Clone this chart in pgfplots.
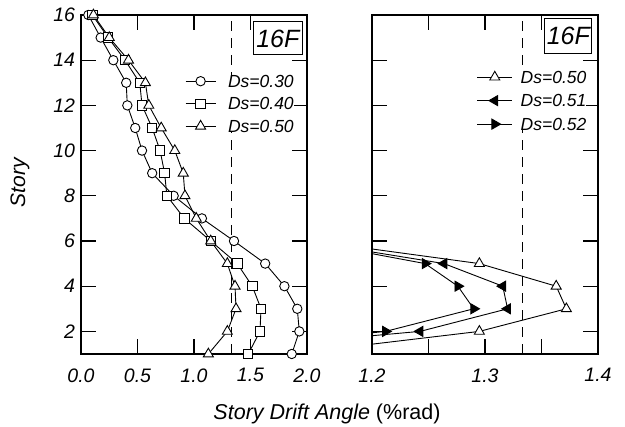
\documentclass[border=0pt]{standalone}
\usepackage{fontspec}
\setmainfont{Liberation Sans}
\usepackage{pgfplots}
\pgfplotsset{compat=1.18}

\pgfplotsset{
  mystyle/.style={
    scale only axis, width=226pt, height=339pt,
    anchor=south west,
    ymin=1, ymax=16, ytick={2,4,...,16},
    tick align=inside, major tick length=15pt,
    axis line style={line width=1.1pt},
    every tick/.style={black, line width=1.1pt},
    /pgf/number format/assume math mode=true,
    ticklabel style={font=\itshape\fontsize{19.5}{19.5}\selectfont},
    xticklabel style={yshift=-11pt},
    yticklabel style={xshift=-2.5pt},
    legend cell align=left,
    every axis plot/.append style={line width=0.9pt, black},
  },
}

\begin{document}
\begin{tikzpicture}
\useasboundingbox (0pt,0pt) rectangle (625pt,427pt);

% ---------------- left panel ----------------
\begin{axis}[mystyle, at={(81pt,73pt)},
  xmin=0, xmax=2, xtick={0,0.5,1,1.5,2},
  xticklabels={0.0,0.5,1.0,1.5,2.0},
  clip=false,
  legend image code/.code={\draw[mark repeat=2,mark phase=2] plot coordinates {(0pt,0pt)(15pt,0pt)(30pt,0pt)};},
  legend style={at={(0.46,0.823)}, anchor=north west, draw=none, fill=white,
    inner sep=0pt, column sep=12pt, row sep=10.5pt,
    font=\itshape\fontsize{17.5}{17.5}\selectfont,
    nodes={inner sep=0pt, text height=12pt, text depth=0pt}},
]
\addplot[dash pattern=on 10pt off 7pt, line width=1pt, forget plot] coordinates {(1.3333,1)(1.3333,16)};
\addplot[mark=*, mark size=4.7pt, mark options={fill=white, solid, line width=0.9pt}] coordinates {
(0.065,16)(0.174,15)(0.286,14)(0.40,13)(0.41,12)(0.48,11)(0.54,10)(0.63,9)
(0.82,8)(1.07,7)(1.354,6)(1.63,5)(1.80,4)(1.914,3)(1.932,2)(1.865,1)};
\addlegendentry{Ds=0.30}
\addplot[mark=square*, mark size=4.7pt, mark options={fill=white, solid, line width=0.9pt}] coordinates {
(0.10,16)(0.24,15)(0.39,14)(0.52,13)(0.54,12)(0.63,11)(0.70,10)(0.74,9)
(0.76,8)(0.914,7)(1.148,6)(1.383,5)(1.516,4)(1.593,3)(1.584,2)(1.48,1)};
\addlegendentry{Ds=0.40}
\addplot[mark=triangle*, mark size=5.8pt, mark options={fill=white, solid, line width=0.9pt}] coordinates {
(0.11,16)(0.25,15)(0.42,14)(0.57,13)(0.60,12)(0.71,11)(0.83,10)(0.905,9)
(0.92,8)(1.02,7)(1.148,6)(1.295,5)(1.363,4)(1.372,3)(1.295,2)(1.127,1)};
\addlegendentry{Ds=0.50}
\end{axis}

% ---------------- right panel ----------------
\begin{axis}[mystyle, at={(372pt,73pt)},
  xmin=1.2, xmax=1.4, xtick={1.2,1.25,1.3,1.35,1.4},
  xticklabels={1.2,,1.3,,1.4},
  yticklabels={},
  legend image code/.code={\draw[mark repeat=2,mark phase=2] plot coordinates {(0pt,0pt)(17.5pt,0pt)(35pt,0pt)};},
  legend style={at={(0.463,0.835)}, anchor=north west, draw=none, fill=white,
    inner sep=0pt, column sep=8pt, row sep=11.5pt,
    font=\itshape\fontsize{17.5}{17.5}\selectfont,
    nodes={inner sep=0pt, text height=12pt, text depth=0pt}},
]
\addplot[dash pattern=on 10pt off 7pt, line width=1pt, forget plot] coordinates {(1.3333,1)(1.3333,16)};
% lines (clipped)
\addplot[forget plot] coordinates {(1.127,1)(1.295,2)(1.372,3)(1.363,4)(1.295,5)(1.148,6)(1.02,7)};
\addplot[forget plot] coordinates {(1.02,1)(1.2425,2)(1.32,3)(1.3157,4)(1.2637,5)(1.14,6)(1.0,7)};
\addplot[forget plot] coordinates {(1.02,1)(1.212,2)(1.29,3)(1.276,4)(1.247,5)(1.14,6)(1.0,7)};
% markers inside the range
\addplot[only marks, forget plot, mark=triangle*, mark size=5.8pt, mark options={fill=white, solid, line width=0.9pt}] coordinates {(1.295,2)(1.372,3)(1.363,4)(1.295,5)};
\addplot[only marks, forget plot, mark=triangle*, mark size=5.8pt, mark options={fill=black, solid, rotate=90}] coordinates {(1.2425,2)(1.32,3)(1.3157,4)(1.2637,5)};
\addplot[only marks, forget plot, mark=triangle*, mark size=5.8pt, mark options={fill=black, solid, rotate=-90}] coordinates {(1.212,2)(1.29,3)(1.276,4)(1.247,5)};
\addlegendimage{black, line width=0.9pt, mark=triangle*, mark size=5.8pt, mark options={fill=white, solid}}
\addlegendentry{Ds=0.50}
\addlegendimage{black, line width=0.9pt, mark=triangle*, mark size=5.8pt, mark options={fill=black, solid, rotate=90}}
\addlegendentry{Ds=0.51}
\addlegendimage{black, line width=0.9pt, mark=triangle*, mark size=5.8pt, mark options={fill=black, solid, rotate=-90}}
\addlegendentry{Ds=0.52}
\end{axis}

% boxes and labels
\node[draw, line width=1pt, minimum width=49pt, minimum height=33pt, inner sep=0pt,
  font=\itshape\fontsize{25}{25}\selectfont] at (277.8pt,388.5pt) {16F};
\node[draw, line width=1pt, minimum width=46.7pt, minimum height=35pt, inner sep=0pt,
  font=\itshape\fontsize{25}{25}\selectfont] at (568.3pt,391.3pt) {16F};
\node[anchor=base, font=\fontsize{21.5}{21.5}\selectfont] at (327pt,7pt) {\textit{Story Drift Angle} (\%rad)};
\node[rotate=90, font=\itshape\fontsize{21}{21}\selectfont] at (20pt,244pt) {Story};
\end{tikzpicture}
\end{document}
